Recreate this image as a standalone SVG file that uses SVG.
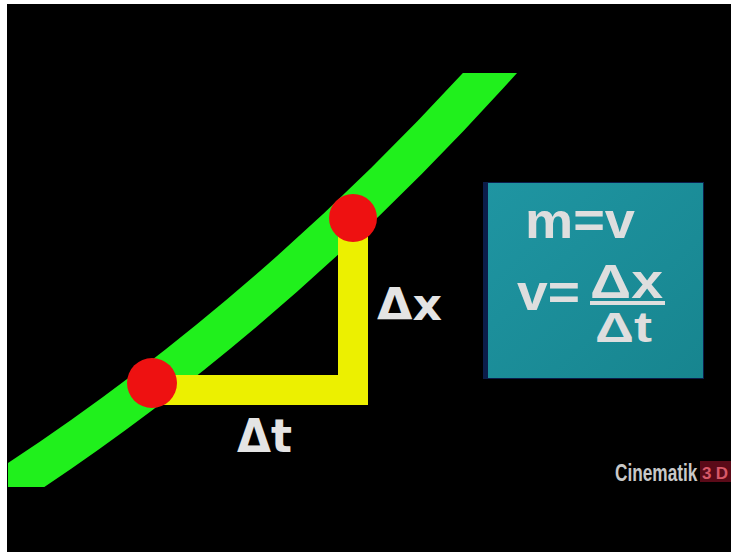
<svg xmlns="http://www.w3.org/2000/svg" width="731" height="552" viewBox="0 0 731 552">
  <style>
    .lbl { font-family: "DejaVu Sans", "Liberation Sans", sans-serif; font-weight: bold; fill: #e4e4e4; }
    .eq { font-family: "Liberation Sans", "DejaVu Sans", sans-serif; font-weight: bold; fill: #dedede; }
    .dot { fill: #ee1111; }
    .logo { font-family: "Liberation Sans", sans-serif; font-weight: bold; }
  </style>
  <defs>
    <clipPath id="area"><rect x="8" y="73" width="723" height="414"/></clipPath>
    <linearGradient id="teal" x1="0" y1="0" x2="1" y2="1">
      <stop offset="0" stop-color="#1f95a2"/>
      <stop offset="1" stop-color="#17858f"/>
    </linearGradient>
  </defs>
  <rect x="0" y="0" width="731" height="552" fill="#ffffff"/>
  <rect x="7" y="4" width="724" height="548" fill="#000000"/>

  <g id="curve" clip-path="url(#area)">
    <path d="M -50,525 L 8,487 C 168,383 330,249 490,73 L 530,29" fill="none" stroke="#20f01c" stroke-width="40"/>
  </g>

  <g id="triangle">
    <polyline points="152,390 353,390 353,218" fill="none" stroke="#ecf000" stroke-width="30" stroke-linejoin="miter"/>
  </g>

  <g id="point1"><circle class="dot" cx="152" cy="383" r="25"/></g>
  <g id="point2"><circle class="dot" cx="353" cy="218" r="24"/></g>

  <g id="label-dx"><text class="lbl" x="377" y="320" font-size="44" textLength="65" lengthAdjust="spacingAndGlyphs">Δx</text></g>
  <g id="label-dt"><text class="lbl" x="237" y="452" font-size="46" textLength="55" lengthAdjust="spacingAndGlyphs">Δt</text></g>

  <g id="formula-box">
    <rect x="483" y="182" width="221" height="197" fill="#0b1d4a"/>
    <rect x="488" y="183" width="215" height="195" fill="url(#teal)"/>
    <text class="eq" x="525" y="238" font-size="50" textLength="110" lengthAdjust="spacingAndGlyphs">m=v</text>
    <text class="eq" x="517" y="310" font-size="50" textLength="63" lengthAdjust="spacingAndGlyphs">v=</text>
    <text class="eq" x="590" y="298" font-size="48" textLength="73" lengthAdjust="spacingAndGlyphs">Δx</text>
    <rect x="590" y="301" width="75" height="4" fill="#dedede"/>
    <text class="eq" x="595" y="342" font-size="42" textLength="57" lengthAdjust="spacingAndGlyphs">Δt</text>
  </g>

  <g id="logo">
    <text class="logo" transform="translate(615,481) scale(0.75,1)" x="0" y="0" font-size="23" fill="#c8c8c8">Cinematik</text>
    <rect x="700" y="461" width="31" height="21" fill="#5a0a18"/>
    <text class="logo" x="702" y="479" font-size="17" fill="#d85868" textLength="26" lengthAdjust="spacing" xml:space="preserve">3 D</text>
  </g>
</svg>
